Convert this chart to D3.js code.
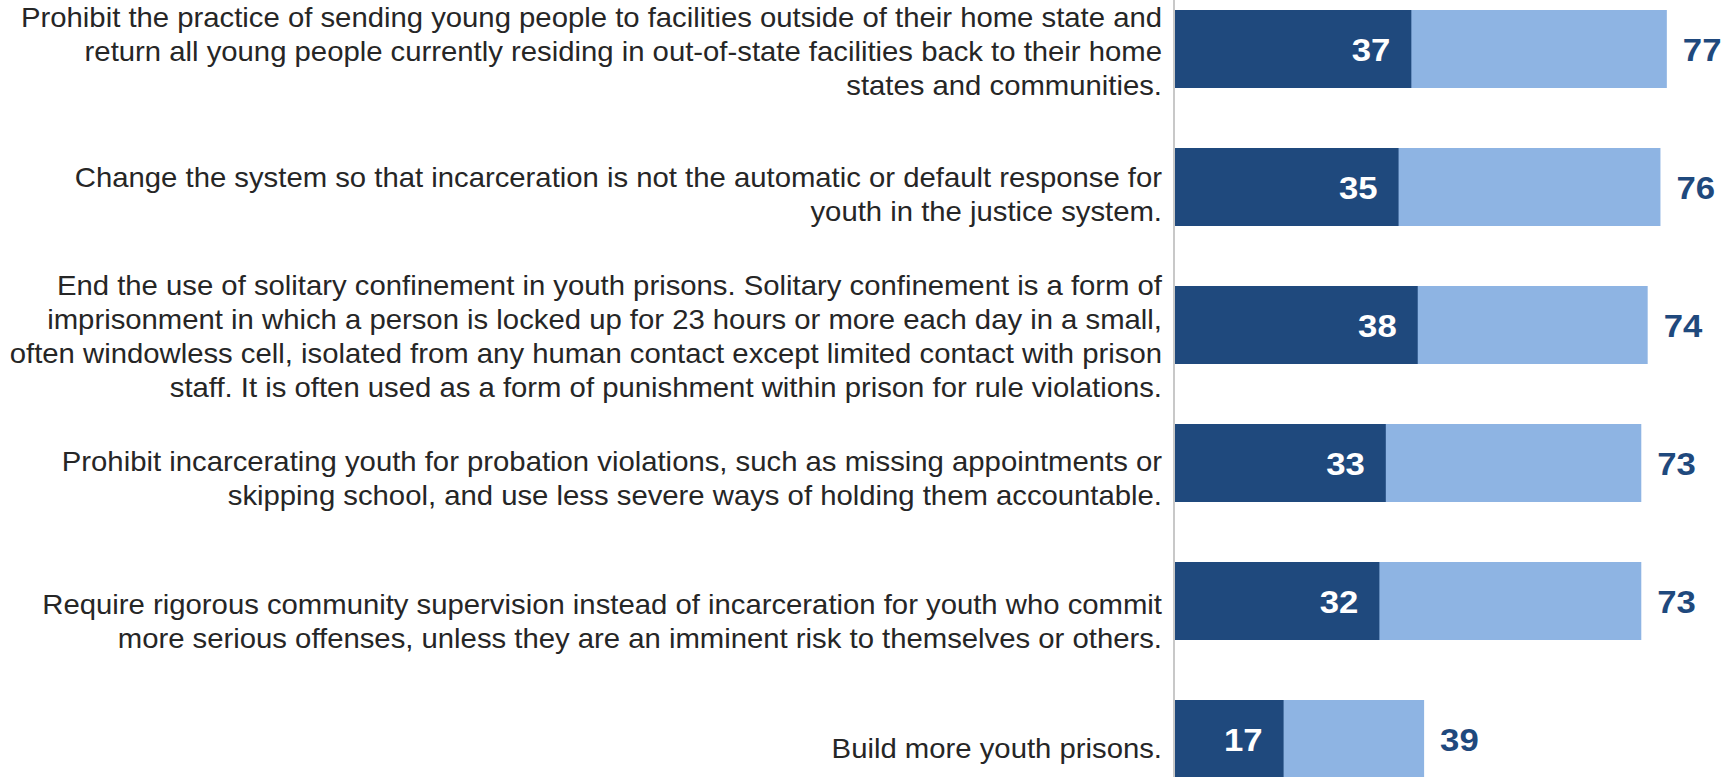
<!DOCTYPE html>
<html>
<head>
<meta charset="utf-8">
<script src="https://cdn.jsdelivr.net/npm/d3@7"></script>
<style>
  body { margin: 0; background: #fff; }
  text { font-family: "Liberation Sans", Arial, sans-serif; }
</style>
</head>
<body>
<div id="chart"></div>
<script>
// categories (label text, already broken into lines as in the picture)
var categories = [
  "Prohibit out-of-state placement",
  "Incarceration not default",
  "End solitary confinement",
  "Probation violations",
  "Community supervision",
  "Build more youth prisons"
];

var labelLines = [
  ["Prohibit the practice of sending young people to facilities outside of their home state and",
   "return all young people currently residing in out-of-state facilities back to their home",
   "states and communities."],
  ["Change the system so that incarceration is not the automatic or default response for",
   "youth in the justice system."],
  ["End the use of solitary confinement in youth prisons. Solitary confinement is a form of",
   "imprisonment in which a person is locked up for 23 hours or more each day in a small,",
   "often windowless cell, isolated from any human contact except limited contact with prison",
   "staff. It is often used as a form of punishment within prison for rule violations."],
  ["Prohibit incarcerating youth for probation violations, such as missing appointments or",
   "skipping school, and use less severe ways of holding them accountable."],
  ["Require rigorous community supervision instead of incarceration for youth who commit",
   "more serious offenses, unless they are an imminent risk to themselves or others."],
  ["Build more youth prisons."]
];

var strongValues = [37, 35, 38, 33, 32, 17];   // dark bars
var totalValues  = [77, 76, 74, 73, 73, 39];   // light bars

var width = 1735, height = 777;
var axisX = 1175;
var fontSize = 27, lineH = 34;
var stretch = 1.085; // the original picture is a bit wider than tall

var svg = d3.select("#chart")
  .append("svg")
  .attr("width", width)
  .attr("height", height);

var x = d3.scaleLinear()
  .domain([0, 80])
  .range([axisX, axisX + 511]);

// bar slots
var y = d3.scaleBand()
  .domain(categories)
  .range([-20, 808])
  .paddingInner(60 / 138)
  .paddingOuter(30 / 138);

// label slots (a little taller than the bar slots)
var yLab = d3.scalePoint()
  .domain(categories)
  .range([52, 52 + 5 * 142.3]);

// light bars = total
svg.append("g")
  .selectAll("rect")
  .data(categories)
  .enter().append("rect")
    .attr("x", x(0))
    .attr("y", function(d) { return y(d); })
    .attr("width", function(d, i) { return x(totalValues[i]) - x(0); })
    .attr("height", y.bandwidth())
    .attr("fill", "#8eb4e3");

// dark bars
svg.append("g")
  .selectAll("rect")
  .data(categories)
  .enter().append("rect")
    .attr("x", x(0))
    .attr("y", function(d) { return y(d); })
    .attr("width", function(d, i) { return x(strongValues[i]) - x(0); })
    .attr("height", y.bandwidth())
    .attr("fill", "#1f497d");

// axis line
svg.append("line")
  .attr("x1", axisX - 1).attr("x2", axisX - 1)
  .attr("y1", 0).attr("y2", height)
  .attr("stroke", "#c8c8c8")
  .attr("stroke-width", 2);

// value labels inside dark bars
svg.append("g")
  .selectAll("text")
  .data(categories)
  .enter().append("text")
    .attr("transform", function(d, i) {
      return "translate(" + (x(strongValues[i]) - 21) + "," + (y(d) + y.bandwidth() / 2) + ") scale(" + stretch + ",1)";
    })
    .attr("dy", "0.36em")
    .attr("text-anchor", "end")
    .style("font-size", "32px")
    .style("font-weight", "bold")
    .attr("fill", "#ffffff")
    .text(function(d, i) { return strongValues[i]; });

// value labels after light bars
svg.append("g")
  .selectAll("text")
  .data(categories)
  .enter().append("text")
    .attr("transform", function(d, i) {
      return "translate(" + (x(totalValues[i]) + 16) + "," + (y(d) + y.bandwidth() / 2) + ") scale(" + stretch + ",1)";
    })
    .attr("dy", "0.36em")
    .attr("text-anchor", "start")
    .style("font-size", "32px")
    .style("font-weight", "bold")
    .attr("fill", "#1f497d")
    .text(function(d, i) { return totalValues[i]; });

// category labels
svg.append("g")
  .attr("transform", "translate(1162,0) scale(" + stretch + ",1)")
  .selectAll("text")
  .data(categories)
  .enter().append("text")
    .attr("text-anchor", "end")
    .style("font-size", fontSize + "px")
    .attr("fill", "#262626")
    .each(function(d, i) {
      var lines = labelLines[i];
      var n = lines.length;
      var c = yLab(d);
      // keep the last line inside the picture
      var lastBase = c + ((n - 1) / 2) * lineH + 0.35 * fontSize;
      if (lastBase > height - 19) c -= lastBase - (height - 19);
      var t = d3.select(this);
      lines.forEach(function(s, k) {
        t.append("tspan")
          .attr("x", 0)
          .attr("y", c + (k - (n - 1) / 2) * lineH)
          .attr("dy", "0.35em")
          .text(s);
      });
    });
</script>
</body>
</html>
